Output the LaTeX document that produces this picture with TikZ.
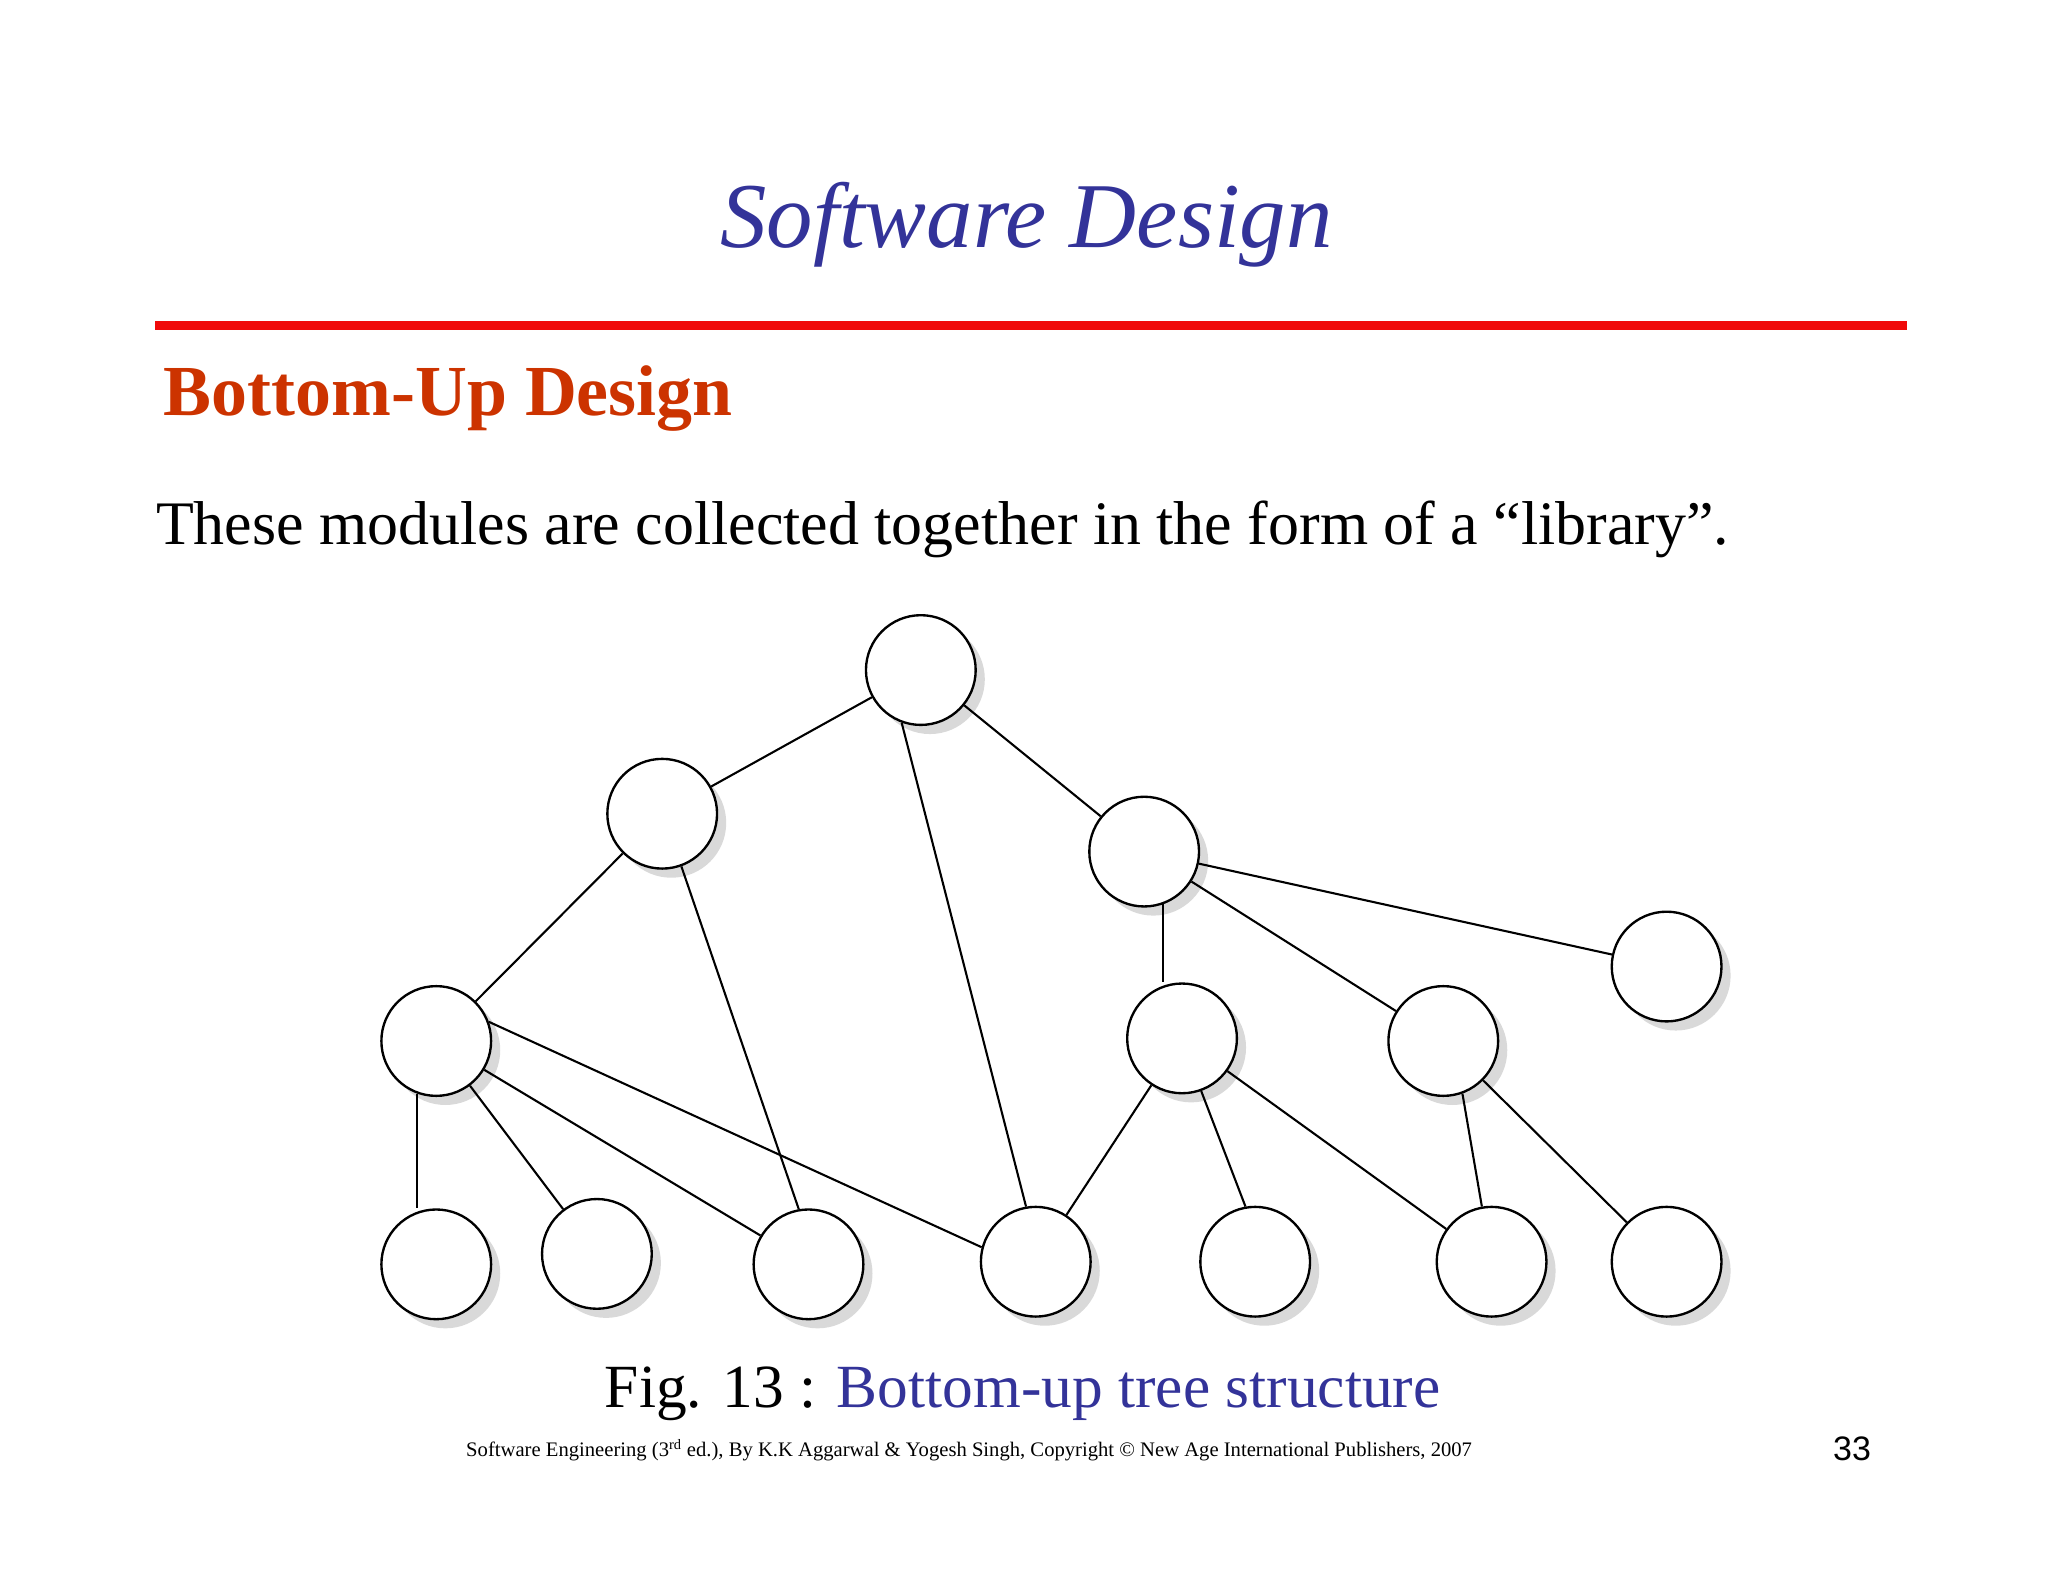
\documentclass[tikz,border=0pt]{standalone}
\usepackage{fontspec}
\setmainfont{Liberation Serif}
\setsansfont{Liberation Sans}
\definecolor{titleblue}{RGB}{51,51,153}
\definecolor{headred}{RGB}{204,51,0}
\definecolor{rulered}{RGB}{240,10,10}
\begin{document}
\begin{tikzpicture}[x=1pt,y=-1pt,
  mod/.style={circle,draw=black,line width=1.8pt,fill=white,minimum size=84pt,inner sep=0pt},
  shadowc/.style={circle,fill=black!15,minimum size=84pt,inner sep=0pt},
  link/.style={line width=1.6pt}]
\useasboundingbox (0,0) rectangle (1568,1211);
\node[font=\itshape\fontsize{71}{75}\selectfont,text=titleblue] (title) at (786,172) {Software Design};
\draw[rulered,line width=7pt] (119,249) -- (1460,249);
\node[anchor=west,font=\bfseries\fontsize{55}{59}\selectfont,text=headred] (head) at (122,305) {Bottom-Up Design};
\node[anchor=west,font=\fontsize{47.4}{51}\selectfont] (body) at (116,405) {These modules are collected together in the form of a “library”.};
% shadows
\foreach \px/\py in {705/513,507/623,876/652,1276/740,334/797,905/795,1105/797,334/968,457/960,619/968,793/966,961/966,1142/966,1276/966}
  \node[shadowc] at (\px+7,\py+7) {};
\node[mod] (A) at (705,513) {};
\node[mod] (B) at (507,623) {};
\node[mod] (C) at (876,652) {};
\node[mod] (D) at (1276,740) {};
\node[mod] (E) at (334,797) {};
\node[mod] (F) at (905,795) {};
\node[mod] (G) at (1105,797) {};
\node[mod] (H) at (334,968) {};
\node[mod] (I) at (457,960) {};
\node[mod] (J) at (619,968) {};
\node[mod] (K) at (793,966) {};
\node[mod] (L) at (961,966) {};
\node[mod] (M) at (1142,966) {};
\node[mod] (N) at (1276,966) {};
\draw[link] (A) -- (B);
\draw[link] (A.250) -- (K.100);
\draw[link] (A) -- (C);
\draw[link] (B) -- (E);
\draw[link] (B.290) -- (J.100);
\draw[link] (C) -- (D);
\draw[link] (C) -- (G);
\draw[link] (C.290) -- (C.290 |- F.north);
\draw[link] (E.250) -- (E.250 |- H.north);
\draw[link] (E) -- (I);
\draw[link] (E) -- (J);
\draw[link] (E.20) -- (K.165);
\draw[link] (F) -- (K);
\draw[link] (F.290) -- (L.100);
\draw[link] (F) -- (M);
\draw[link] (G.290) -- (M.100);
\draw[link] (G) -- (N);
\node[font=\fontsize{47}{51}\selectfont] (cap) at (783,1067) {Fig. 13 : \textcolor{titleblue}{Bottom-up tree structure}};
\node[font=\fontsize{15.8}{18}\selectfont] (foot) at (742,1110) {Software Engineering (3\textsuperscript{rd} ed.), By K.K Aggarwal \& Yogesh Singh, Copyright © New Age International Publishers, 2007};
\node[font=\sffamily\fontsize{26}{30}\selectfont] (pg) at (1418,1109) {33};
\end{tikzpicture}
\end{document}
